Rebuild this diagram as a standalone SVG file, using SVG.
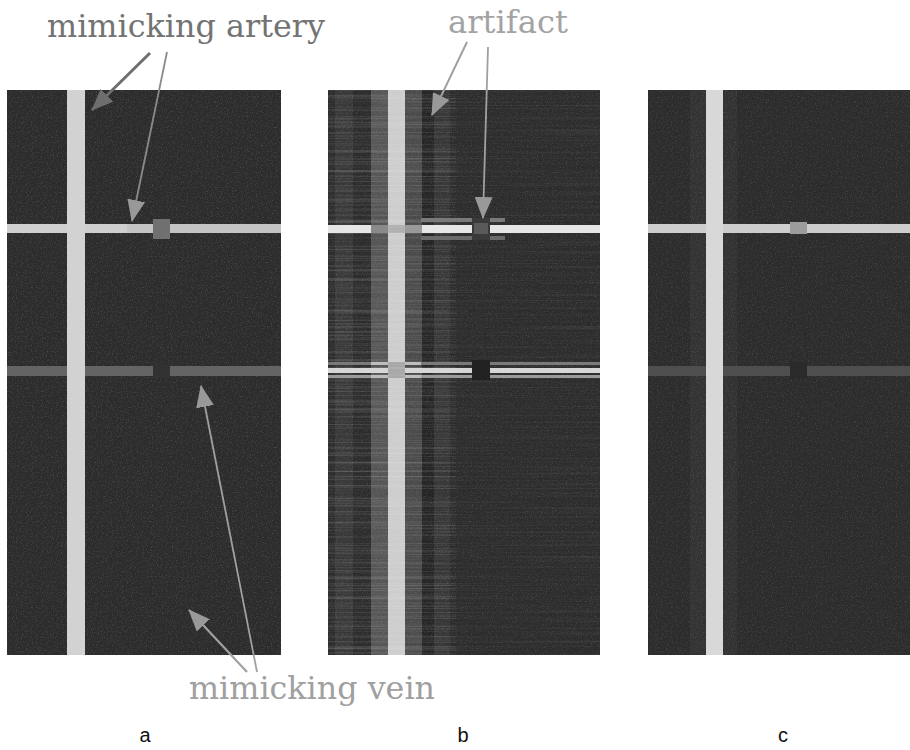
<svg xmlns="http://www.w3.org/2000/svg" width="910" height="750" viewBox="0 0 910 750">
<style>
.lbl{font-family:"DejaVu Serif","Liberation Serif",serif;font-size:32px}
.cap{font-family:"Liberation Sans",Arial,sans-serif;font-size:20px;fill:#111;text-anchor:middle}
.bg{fill:#2c2c2c}
</style>
<defs>
<filter id="grain" x="0" y="0" width="100%" height="100%">
<feTurbulence type="fractalNoise" baseFrequency="0.8" numOctaves="2" seed="3" result="n"/>
<feColorMatrix in="n" type="matrix" values="0 0 0 0 1  0 0 0 0 1  0 0 0 0 1  1.1 0 0 0 -0.55"/>
</filter>
<filter id="streak" x="0" y="0" width="100%" height="100%">
<feTurbulence type="fractalNoise" baseFrequency="0.004 0.6" numOctaves="2" seed="7" result="n"/>
<feColorMatrix in="n" type="matrix" values="0 0 0 0 1  0 0 0 0 1  0 0 0 0 1  1.4 0 0 0 -0.62"/>
</filter>
<marker id="ahD" markerUnits="userSpaceOnUse" markerWidth="22" markerHeight="18" refX="21" refY="9" orient="auto"><path d="M0,0 L22,9 L0,18 z" fill="#6e6e6e"/></marker>
<marker id="ahL" markerUnits="userSpaceOnUse" markerWidth="22" markerHeight="18" refX="21" refY="9" orient="auto"><path d="M0,0 L22,9 L0,18 z" fill="#999"/></marker>
</defs>
<rect width="910" height="750" fill="#fff"/>

<g id="panel-a">
<rect class="bg" x="7" y="90" width="274" height="565"/>
<rect x="7" y="90" width="274" height="565" filter="url(#grain)" opacity="0.35"/>
<rect x="7" y="224" width="274" height="9" fill="#c4c4c4"/>
<rect x="7" y="224" width="120" height="9" fill="#cfcfcf"/>
<rect x="153" y="219" width="17" height="20" fill="#707070"/>
<rect x="7" y="366" width="274" height="10" fill="#646464"/>
<rect x="153" y="364" width="17" height="14" fill="#323232"/>
<rect x="67" y="90" width="18" height="565" fill="#d2d2d2"/>
</g>

<g id="panel-b">
<rect class="bg" x="328" y="90" width="272" height="565"/>
<rect x="335" y="90" width="18" height="565" fill="#383838"/>
<rect x="371" y="90" width="17" height="565" fill="#555"/>
<rect x="405" y="90" width="17" height="565" fill="#4a4a4a"/>
<rect x="422" y="90" width="12" height="565" fill="#252525"/>
<rect x="434" y="90" width="16" height="565" fill="#363636"/>
<rect x="328" y="90" width="128" height="565" filter="url(#streak)" opacity="0.3"/>
<rect x="456" y="90" width="144" height="565" filter="url(#streak)" opacity="0.1"/>
<rect x="328" y="90" width="272" height="565" filter="url(#grain)" opacity="0.3"/>
<rect x="421" y="218" width="84" height="4" fill="#7a7a7a"/>
<rect x="421" y="236" width="84" height="4" fill="#6a6a6a"/>
<rect x="328" y="225" width="272" height="8" fill="#e6e6e6"/>
<rect x="371" y="225" width="17" height="8" fill="#8a8a8a"/>
<rect x="405" y="225" width="17" height="8" fill="#9a9a9a"/>
<rect x="472" y="218" width="18" height="22" fill="#3a3a3a"/>
<rect x="474" y="223" width="14" height="11" fill="#5a5a5a"/>
<rect x="328" y="362" width="272" height="3" fill="#7a7a7a"/>
<rect x="328" y="368" width="272" height="5" fill="#d6d6d6"/>
<rect x="328" y="375" width="272" height="3" fill="#9a9a9a"/>
<rect x="371" y="362" width="50" height="3" fill="#bdbdbd"/>
<rect x="371" y="375" width="50" height="3" fill="#bdbdbd"/>
<rect x="472" y="360" width="18" height="20" fill="#222"/>
<rect x="388" y="90" width="17" height="565" fill="#cdcdcd"/>
<rect x="388" y="225" width="17" height="8" fill="#b0b0b0"/>
<rect x="388" y="362" width="17" height="16" fill="#a8a8a8"/>
<rect x="388" y="90" width="17" height="565" filter="url(#streak)" opacity="0.25"/>
</g>

<g id="panel-c">
<rect class="bg" x="648" y="90" width="262" height="565"/>
<rect x="690" y="90" width="16" height="565" fill="#333"/>
<rect x="723" y="90" width="14" height="565" fill="#323232"/>
<rect x="648" y="90" width="262" height="565" filter="url(#grain)" opacity="0.3"/>
<rect x="648" y="224" width="262" height="9" fill="#cdcdcd"/>
<rect x="790" y="222" width="17" height="12" fill="#9c9c9c"/>
<rect x="648" y="366" width="262" height="10" fill="#4e4e4e"/>
<rect x="790" y="362" width="17" height="16" fill="#2a2a2a"/>
<rect x="706" y="90" width="17" height="565" fill="#d8d8d8"/>
</g>

<g id="labels">
<text class="lbl" x="47" y="37" fill="#737373" textLength="278" lengthAdjust="spacingAndGlyphs">mimicking artery</text>
<text class="lbl" x="448" y="33" fill="#a3a3a3" textLength="120" lengthAdjust="spacingAndGlyphs">artifact</text>
<text class="lbl" x="189" y="699" fill="#a0a0a0" textLength="246" lengthAdjust="spacingAndGlyphs">mimicking vein</text>
<text class="cap" x="145" y="742">a</text>
<text class="cap" x="463" y="742">b</text>
<text class="cap" x="783" y="742">c</text>
</g>

<g id="connectors" fill="none">
<line x1="150" y1="53" x2="92" y2="110" stroke="#6e6e6e" stroke-width="3" marker-end="url(#ahD)"/>
<line x1="167" y1="52" x2="132" y2="221" stroke="#8a8a8a" stroke-width="1.8" marker-end="url(#ahL)"/>
<line x1="467" y1="42" x2="432" y2="115" stroke="#a0a0a0" stroke-width="2" marker-end="url(#ahL)"/>
<line x1="488" y1="47" x2="483" y2="218" stroke="#a0a0a0" stroke-width="1.8" marker-end="url(#ahL)"/>
<line x1="247" y1="672" x2="189" y2="610" stroke="#a0a0a0" stroke-width="2.2" marker-end="url(#ahL)"/>
<line x1="257" y1="672" x2="201" y2="386" stroke="#a0a0a0" stroke-width="1.8" marker-end="url(#ahL)"/>
</g>
</svg>
